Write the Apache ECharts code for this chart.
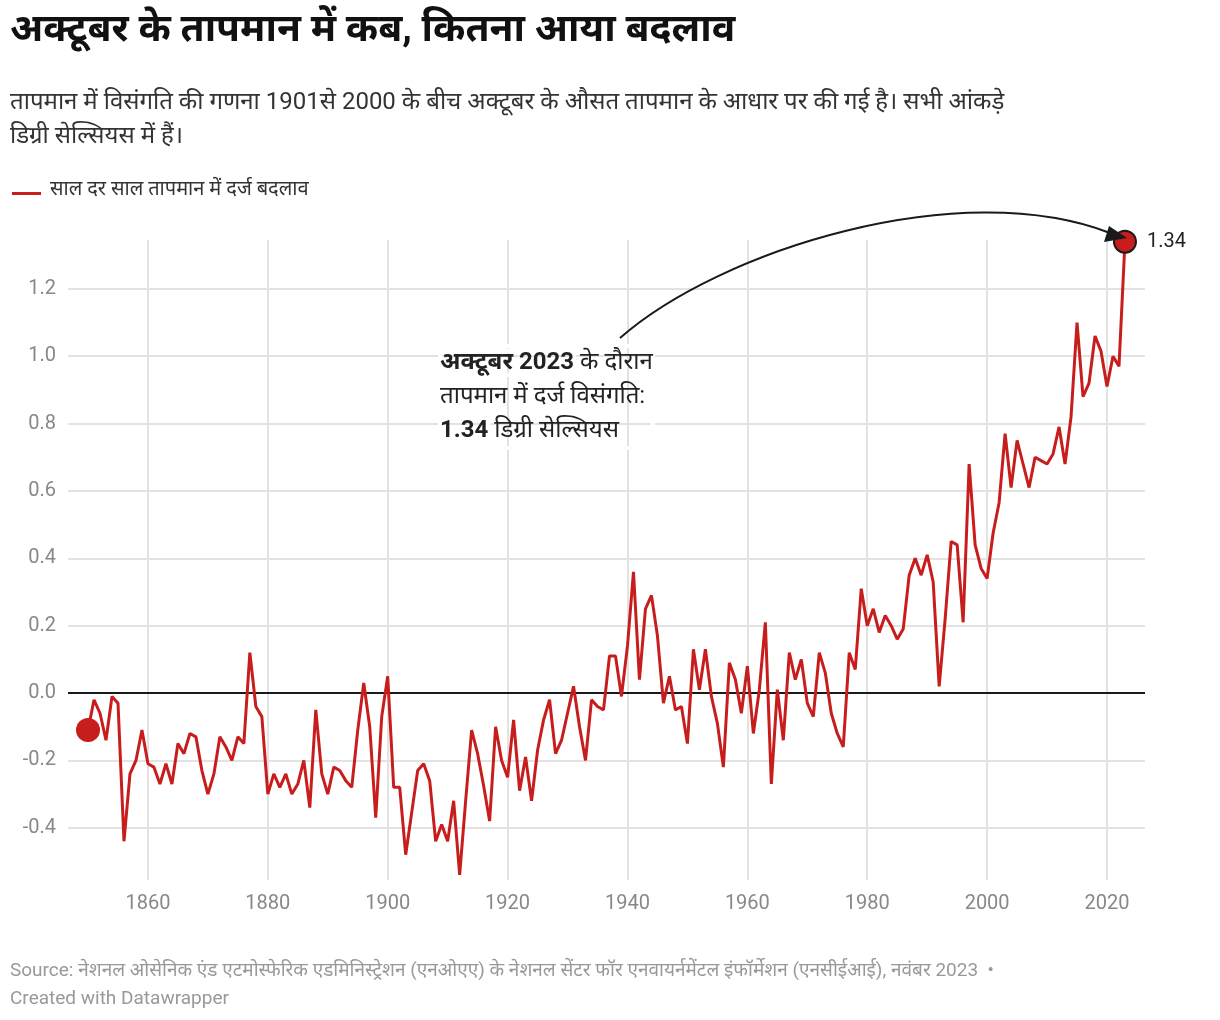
<!DOCTYPE html>
<html>
<head>
<meta charset="utf-8">
<script src="https://cdn.jsdelivr.net/npm/echarts@6/dist/echarts.min.js"></script>
<style>
  body { margin: 0; background: #fff; }
  #container { width: 1220px; height: 1020px; }
</style>
</head>
<body>
<div id="container"></div>
<script>
// अक्टूबर तापमान विसंगति, 1850-2023
var startYear = 1850;
var anomalies = [
  -0.11, -0.02, -0.06, -0.14, -0.01, -0.03, -0.44, -0.24, -0.20, -0.11,
  -0.21, -0.22, -0.27, -0.21, -0.27, -0.15, -0.18, -0.12, -0.13, -0.23,
  -0.30, -0.24, -0.13, -0.16, -0.20, -0.13, -0.15, 0.12, -0.04, -0.07,
  -0.30, -0.24, -0.28, -0.24, -0.30, -0.27, -0.20, -0.34, -0.05, -0.24,
  -0.30, -0.22, -0.23, -0.26, -0.28, -0.11, 0.03, -0.10, -0.37, -0.07,
  0.05, -0.28, -0.28, -0.48, -0.355, -0.23, -0.21, -0.26, -0.44, -0.39,
  -0.44, -0.32, -0.54, -0.32, -0.11, -0.18, -0.275, -0.38, -0.10, -0.20,
  -0.25, -0.08, -0.29, -0.19, -0.32, -0.17, -0.08, -0.02, -0.18, -0.14,
  -0.06, 0.02, -0.10, -0.20, -0.02, -0.04, -0.05, 0.11, 0.11, -0.01,
  0.14, 0.36, 0.04, 0.25, 0.29, 0.17, -0.03, 0.05, -0.05, -0.04,
  -0.15, 0.13, 0.01, 0.13, -0.01, -0.09, -0.22, 0.09, 0.04, -0.06,
  0.08, -0.12, 0.01, 0.21, -0.27, 0.01, -0.14, 0.12, 0.04, 0.10,
  -0.03, -0.07, 0.12, 0.06, -0.06, -0.12, -0.16, 0.12, 0.07, 0.31,
  0.20, 0.25, 0.18, 0.23, 0.20, 0.16, 0.19, 0.35, 0.40, 0.35,
  0.41, 0.33, 0.02, 0.22, 0.45, 0.44, 0.21, 0.68, 0.44, 0.37,
  0.34, 0.475, 0.565, 0.77, 0.61, 0.75, 0.68, 0.61, 0.70, 0.69,
  0.68, 0.71, 0.79, 0.68, 0.82, 1.10, 0.88, 0.92, 1.06, 1.015,
  0.91, 1.00, 0.97, 1.34
];
var xTicks = [1860, 1880, 1900, 1920, 1940, 1960, 1980, 2000, 2020];
var yTicks = [-0.4, -0.2, 0.2, 0.4, 0.6, 0.8, 1.0, 1.2];
var yLabels = [-0.4, -0.2, 0, 0.2, 0.4, 0.6, 0.8, 1.0, 1.2];

var lineData = anomalies.map(function (v, i) { return [startYear + i, v]; });
var lastIdx = anomalies.length - 1;

var red = '#c71e1d';
var font = 'Roboto, "Noto Sans", sans-serif';

var gridLines = [];
xTicks.forEach(function (t) { gridLines.push({ xAxis: t }); });
yTicks.forEach(function (t) { gridLines.push({ yAxis: t }); });

var myChart = echarts.init(document.getElementById('container'));
var option = {
  backgroundColor: '#fff',
  animation: false,
  textStyle: { fontFamily: font },
  grid: { left: 68, right: 75, top: 240, bottom: 140 },
  xAxis: {
    type: 'value',
    min: 1846.66,
    max: 2026.34,
    axisLine: { show: false },
    axisTick: { show: false, customValues: xTicks },
    splitLine: { show: false },
    axisLabel: {
      customValues: xTicks,
      color: '#888', fontSize: 20, margin: 14, fontFamily: font,
      formatter: function (v) { return String(v); }
    }
  },
  yAxis: {
    type: 'value',
    min: -0.555,
    max: 1.345,
    axisLine: { show: false },
    axisTick: { show: false, customValues: yLabels },
    splitLine: { show: false },
    axisLabel: {
      customValues: yLabels,
      color: '#888', fontSize: 20, margin: 12, fontFamily: font,
      formatter: function (v) { return v.toFixed(1); }
    }
  },
  series: [
    {
      type: 'line',
      data: lineData,
      symbol: 'none',
      lineStyle: { color: red, width: 3 },
      z: 3,
      markLine: {
        silent: true,
        symbol: 'none',
        label: { show: false },
        lineStyle: { color: '#e3e3e3', width: 2, type: 'solid' },
        data: gridLines.concat([{ yAxis: 0, lineStyle: { color: '#1a1a1a', width: 2 } }]),
        z: 1
      }
    },
    {
      type: 'scatter',
      z: 5,
      silent: true,
      data: [
        { value: lineData[0], symbolSize: 24, itemStyle: { color: red, opacity: 1 } },
        {
          value: lineData[lastIdx], symbolSize: 22,
          itemStyle: { color: red, opacity: 1, borderColor: '#1a1a1a', borderWidth: 2 },
          label: {
            show: true, position: 'right', distance: 10,
            formatter: anomalies[lastIdx].toFixed(2),
            color: '#222', fontSize: 20, fontFamily: font
          }
        }
      ]
    }
  ],
  graphic: [
    {
      type: 'text', left: 10, top: 12, z: 100,
      style: { text: 'अक्टूबर के तापमान में कब, कितना आया बदलाव', fill: '#111', font: 'bold 39px ' + font }
    },
    {
      type: 'text', left: 10, top: 86, z: 100,
      style: {
        text: 'तापमान में विसंगति की गणना 1901से 2000 के बीच अक्टूबर के औसत तापमान के आधार पर की गई है। सभी आंकड़े\nडिग्री सेल्सियस में हैं।',
        font: '24px ' + font, fill: '#333', lineHeight: 34
      }
    },
    { type: 'rect', z: 100, shape: { x: 12, y: 192, width: 29, height: 3 }, style: { fill: red } },
    {
      type: 'text', left: 50, top: 180, z: 100,
      style: { text: 'साल दर साल तापमान में दर्ज बदलाव', font: '20px ' + font, fill: '#333' }
    },
    {
      type: 'text', left: 438, top: 344, z: 100,
      style: {
        text: '{b|अक्टूबर 2023} के दौरान\nतापमान में दर्ज विसंगति:\n{b|1.34} डिग्री सेल्सियस',
        font: '24px ' + font, fill: '#222', lineHeight: 34,
        textBorderColor: '#fff', textBorderWidth: 4,
        rich: { b: { fontWeight: 'bold', fontSize: 24, fontFamily: font, fill: '#222', textBorderColor: '#fff', textBorderWidth: 4 } }
      }
    },
    {
      type: 'bezierCurve', z: 100,
      shape: { x1: 620, y1: 338, cpx1: 720, cpy1: 250, cpx2: 960, cpy2: 175, x2: 1110, y2: 233 },
      style: { stroke: '#1a1a1a', lineWidth: 2, fill: null }
    },
    {
      type: 'polygon', z: 100,
      shape: { points: [[1127, 238], [1104, 242], [1109, 226]] },
      style: { fill: '#1a1a1a' }
    },
    {
      type: 'text', left: 10, top: 957, z: 100,
      style: {
        text: 'Source: नेशनल ओसेनिक एंड एटमोस्फेरिक एडमिनिस्ट्रेशन (एनओएए) के नेशनल सेंटर फॉर एनवायर्नमेंटल इंफॉर्मेशन (एनसीईआई), नवंबर 2023  •\nCreated with Datawrapper',
        font: '19px ' + font, fill: '#999', lineHeight: 28
      }
    }
  ]
};
myChart.setOption(option);
</script>
</body>
</html>
